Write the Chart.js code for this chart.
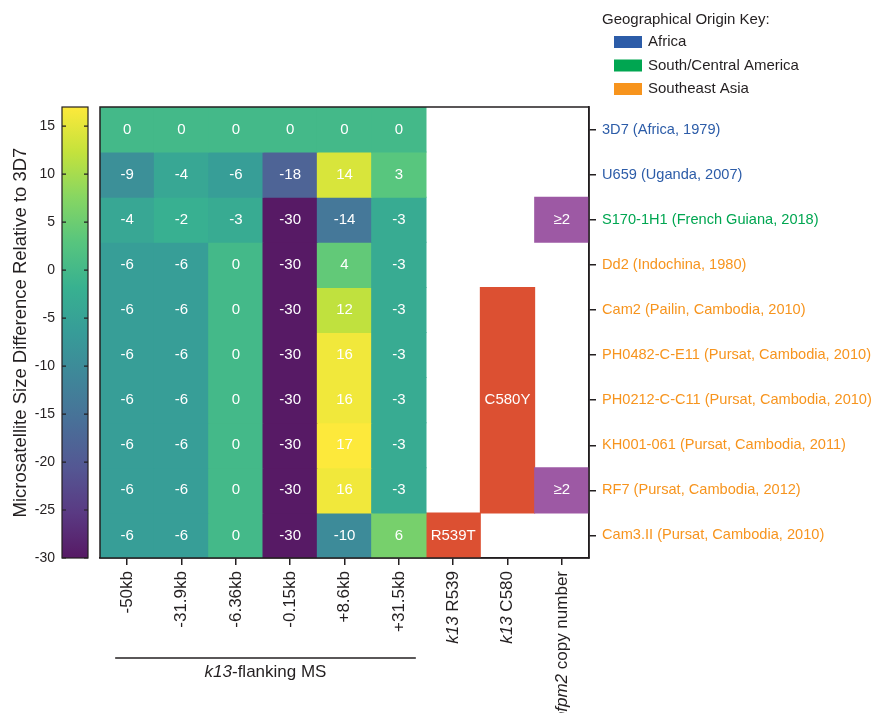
<!DOCTYPE html>
<html>
<head>
<meta charset="utf-8">
<script src="https://cdn.jsdelivr.net/npm/chart.js@4.4.1/dist/chart.umd.min.js"></script>
<style>
  body { margin: 0; background: #fff; }
  #wrap { width: 875px; height: 713px; position: relative; }
</style>
</head>
<body>
<div id="wrap"><canvas id="heatmap"></canvas></div>
<script>
// columns and rows
var colLabels = ["-50kb", "-31.9kb", "-6.36kb", "-0.15kb", "+8.6kb", "+31.5kb", "k13 R539", "k13 C580", "pfpm2 copy number"];
var colItalic = [null, null, null, null, null, null, "k13", "k13", "pfpm2"];
var rowLabels = [
  "3D7 (Africa, 1979)",
  "U659 (Uganda, 2007)",
  "S170-1H1 (French Guiana, 2018)",
  "Dd2 (Indochina, 1980)",
  "Cam2 (Pailin, Cambodia, 2010)",
  "PH0482-C-E11 (Pursat, Cambodia, 2010)",
  "PH0212-C-C11 (Pursat, Cambodia, 2010)",
  "KH001-061 (Pursat, Cambodia, 2011)",
  "RF7 (Pursat, Cambodia, 2012)",
  "Cam3.II (Pursat, Cambodia, 2010)"
];
var rowRegion = ["Africa", "Africa", "South/Central America", "Southeast Asia", "Southeast Asia",
  "Southeast Asia", "Southeast Asia", "Southeast Asia", "Southeast Asia", "Southeast Asia"];
var regionNames = ["Africa", "South/Central America", "Southeast Asia"];
var regionColors = ["#2c5ca8", "#00a651", "#f7941d"];

// microsatellite size difference relative to 3D7, one array per flanking marker
var ms50 = [0, -9, -4, -6, -6, -6, -6, -6, -6, -6];
var ms319 = [0, -4, -2, -6, -6, -6, -6, -6, -6, -6];
var ms636 = [0, -6, -3, 0, 0, 0, 0, 0, 0, 0];
var ms015 = [0, -18, -30, -30, -30, -30, -30, -30, -30, -30];
var ms86 = [0, 14, -14, 4, 12, 16, 16, 17, 16, -10];
var ms315 = [0, 3, -3, -3, -3, -3, -3, -3, -3, 6];
var msValues = [ms50, ms319, ms636, ms015, ms86, ms315];

// genotype columns
var r539 = [null, null, null, null, null, null, null, null, null, "R539T"];
var c580 = [null, null, null, null, "C580Y", "C580Y", "C580Y", "C580Y", "C580Y", null];
var pm2 = [null, null, "\u22652", null, null, null, null, null, "\u22652", null];

// colour bar
var cbMin = -30, cbMax = 17;
var cbTicks = [-30, -25, -20, -15, -10, -5, 0, 5, 10, 15];

var viridis = [
  [68, 1, 84], [72, 36, 117], [65, 68, 135], [53, 95, 141], [42, 120, 142],
  [33, 145, 140], [34, 168, 132], [68, 191, 112], [122, 209, 81], [189, 223, 38], [253, 231, 37]
];
function fade(c) {
  var k = 0.1;
  return [c[0] + (255 - c[0]) * k, c[1] + (255 - c[1]) * k, c[2] + (255 - c[2]) * k];
}
function rgb(c) {
  return "rgb(" + Math.round(c[0]) + "," + Math.round(c[1]) + "," + Math.round(c[2]) + ")";
}
function colorFor(v) {
  var t = (v - cbMin) / (cbMax - cbMin);
  t = Math.max(0, Math.min(1, t)) * 10;
  var i = Math.min(9, Math.floor(t)), f = t - i;
  var a = viridis[i], b = viridis[i + 1];
  return rgb(fade([a[0] + (b[0] - a[0]) * f, a[1] + (b[1] - a[1]) * f, a[2] + (b[2] - a[2]) * f]));
}

var FONT = "Liberation Sans, Arial, sans-serif";
var TXT = "#231f20";

// heatmap datasets: one per row, floating bars over the row band
var datasets = rowLabels.map(function (r, i) {
  return {
    data: colLabels.map(function (c, j) { return j < 6 ? [i, i + 1] : null; }),
    values: colLabels.map(function (c, j) { return j < 6 ? msValues[j][i] : null; }),
    backgroundColor: colLabels.map(function (c, j) { return j < 6 ? colorFor(msValues[j][i]) : "rgba(0,0,0,0)"; }),
    borderWidth: 0,
    inflateAmount: 0.5
  };
});

// genotype blocks: merge runs of the same call into one bar
function blocks(arr, col, color) {
  var out = [], start = null;
  for (var i = 0; i <= arr.length; i++) {
    if (start !== null && (i === arr.length || arr[i] !== arr[start])) {
      out.push({ x: colLabels[col], y: [start, i], text: arr[start], color: color });
      start = null;
    }
    if (i < arr.length && arr[i] !== null && start === null) start = i;
  }
  return out;
}
var genoData = blocks(r539, 6, "#dc5032").concat(blocks(c580, 7, "#dc5032"), blocks(pm2, 8, "#9d59a4"));
datasets.push({
  data: genoData,
  genotype: true,
  backgroundColor: genoData.map(function (d) { return d.color; }),
  borderWidth: 0,
  inflateAmount: 0.5
});

var overlay = {
  id: "overlay",
  beforeDatasetsDraw: function (chart) {
    var ctx = chart.ctx, cb = chart.scales.cb, a = chart.chartArea;
    var x0 = 62, x1 = 88;
    var g = ctx.createLinearGradient(0, a.bottom, 0, a.top);
    viridis.forEach(function (c, i) { g.addColorStop(i / 10, rgb(fade(c))); });
    ctx.save();
    ctx.fillStyle = g;
    ctx.fillRect(x0, a.top, x1 - x0, a.bottom - a.top);
    ctx.strokeStyle = TXT;
    ctx.lineWidth = 1.2;
    ctx.strokeRect(x0, a.top, x1 - x0, a.bottom - a.top);
    ctx.beginPath();
    cb.ticks.forEach(function (t) {
      var y = cb.getPixelForValue(t.value);
      ctx.moveTo(x0, y); ctx.lineTo(x0 + 4, y);
      ctx.moveTo(x1 - 4, y); ctx.lineTo(x1, y);
    });
    ctx.stroke();
    ctx.restore();
  },
  afterDatasetsDraw: function (chart) {
    var ctx = chart.ctx;
    ctx.save();
    ctx.fillStyle = "#fff";
    ctx.font = "15px " + FONT;
    ctx.textAlign = "center";
    ctx.textBaseline = "middle";
    chart.data.datasets.forEach(function (ds, di) {
      chart.getDatasetMeta(di).data.forEach(function (el, k) {
        var txt = ds.genotype ? ds.data[k].text : ds.values[k];
        if (txt === null || txt === undefined) return;
        var p = el.getProps(["x", "y", "base"], true);
        ctx.fillText(String(txt), p.x, (p.y + p.base) / 2);
      });
    });
    ctx.restore();
  },
  afterDraw: function (chart) {
    var ctx = chart.ctx, a = chart.chartArea, xs = chart.scales.x;
    ctx.save();
    // frame
    ctx.strokeStyle = TXT;
    ctx.lineWidth = 1.5;
    ctx.strokeRect(a.left, a.top, a.right - a.left, a.bottom - a.top);

    // genotype column labels with italic gene names
    ctx.fillStyle = TXT;
    var ly = a.bottom + 7 + 6;
    for (var j = 6; j < colLabels.length; j++) {
      var it = colItalic[j], rest = colLabels[j].slice(it.length);
      var x = xs.getPixelForValue(j);
      ctx.save();
      ctx.translate(x, ly);
      ctx.rotate(-Math.PI / 2);
      ctx.textBaseline = "middle";
      ctx.textAlign = "left";
      ctx.font = "italic 17px " + FONT;
      var w1 = ctx.measureText(it).width;
      ctx.font = "17px " + FONT;
      var w2 = ctx.measureText(rest).width;
      ctx.font = "italic 17px " + FONT;
      ctx.fillText(it, -(w1 + w2), 0);
      ctx.font = "17px " + FONT;
      ctx.fillText(rest, -w2, 0);
      ctx.restore();
    }

    // bracket under the flanking markers
    var bx0 = xs.getPixelForValue(0) - 12, bx1 = xs.getPixelForValue(5) + 17;
    ctx.beginPath();
    ctx.moveTo(bx0, 658); ctx.lineTo(bx1, 658);
    ctx.lineWidth = 1.5;
    ctx.stroke();
    ctx.textBaseline = "middle";
    ctx.textAlign = "left";
    ctx.font = "italic 17px " + FONT;
    var wa = ctx.measureText("k13").width;
    ctx.font = "17px " + FONT;
    var wb = ctx.measureText("-flanking MS").width;
    var sx = (bx0 + bx1) / 2 - (wa + wb) / 2;
    ctx.font = "italic 17px " + FONT;
    ctx.fillText("k13", sx, 672);
    ctx.font = "17px " + FONT;
    ctx.fillText("-flanking MS", sx + wa, 672);

    // origin key
    ctx.font = "15px " + FONT;
    ctx.fillText("Geographical Origin Key:", 602, 20);
    regionNames.forEach(function (n, i) {
      var y = 42 + i * 23.5;
      ctx.fillStyle = regionColors[i];
      ctx.fillRect(614, y - 6, 28, 12);
      ctx.fillStyle = TXT;
      ctx.fillText(n, 648, y);
    });
    ctx.restore();
  }
};

var ctx = document.getElementById("heatmap").getContext("2d");
var heatmap = new Chart(ctx, {
  type: "bar",
  data: { labels: colLabels, datasets: datasets },
  options: {
    responsive: true,
    maintainAspectRatio: false,
    animation: false,
    grouped: false,
    barPercentage: 1,
    categoryPercentage: 1,
    layout: { padding: { top: 107, left: 0, right: 0, bottom: 0 } },
    plugins: {
      legend: { display: false },
      tooltip: { enabled: false }
    },
    scales: {
      x: {
        type: "category",
        position: "bottom",
        offset: true,
        grid: { display: true, offset: false, drawOnChartArea: false, tickLength: 7, color: TXT, lineWidth: 1.5 },
        border: { display: true, color: TXT, width: 1.5 },
        ticks: {
          autoSkip: false,
          minRotation: 90,
          maxRotation: 90,
          padding: 6,
          color: TXT,
          font: { size: 17, family: FONT },
          callback: function (v, i) { return i < 6 ? colLabels[i] : ""; }
        },
        afterFit: function (s) { s.height = 155; }
      },
      y: {
        type: "linear",
        position: "right",
        min: 0,
        max: 10,
        reverse: true,
        afterBuildTicks: function (s) {
          s.ticks = rowLabels.map(function (r, i) { return { value: i + 0.5 }; });
        },
        grid: { display: true, drawOnChartArea: false, tickLength: 7, color: TXT, lineWidth: 1.5 },
        border: { display: true, color: TXT, width: 1.5 },
        ticks: {
          autoSkip: false,
          padding: 6,
          font: { size: 14.6, family: FONT },
          color: function (c) { return regionColors[regionNames.indexOf(rowRegion[c.index])]; },
          callback: function (v, i) { return rowLabels[i]; }
        },
        afterFit: function (s) { s.width = 286; }
      },
      cb: {
        type: "linear",
        position: "left",
        min: cbMin,
        max: cbMax,
        afterBuildTicks: function (s) {
          s.ticks = cbTicks.map(function (v) { return { value: v }; });
        },
        grid: { display: false, drawTicks: false },
        border: { display: false },
        ticks: { padding: 45, color: TXT, font: { size: 14, family: FONT } },
        title: {
          display: true,
          text: "Microsatellite Size Difference Relative to 3D7",
          color: TXT,
          font: { size: 18.5, family: FONT },
          padding: { top: 10, bottom: 0 }
        },
        afterFit: function (s) { s.width = 100; }
      }
    }
  },
  plugins: [overlay]
});
</script>
</body>
</html>
